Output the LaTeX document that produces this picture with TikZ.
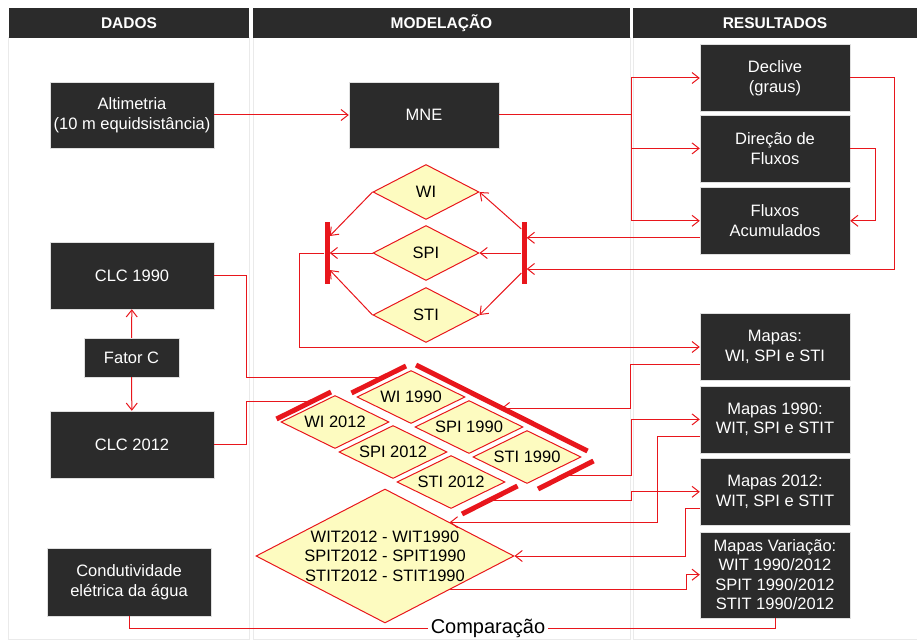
\documentclass[tikz,border=0pt]{standalone}
\usepackage{fontspec}
\setmainfont{Liberation Sans}
\usetikzlibrary{shapes.geometric,arrows.meta,positioning}
\definecolor{escuro}{RGB}{43,43,43}
\definecolor{vermelho}{RGB}{232,22,28}
\definecolor{amarelo}{RGB}{253,251,192}
\definecolor{painel}{RGB}{234,234,234}

\begin{document}
\begin{tikzpicture}[x=1pt,y=-1pt,>={Straight Barb[length=7pt,width=11pt]},
  font=\fontsize{16.5}{19.5}\selectfont,
  caixa/.style={draw=gray!25, fill=escuro, text=white, align=center, inner sep=0pt, minimum width=150pt, minimum height=67pt},
  cabeca/.style={fill=escuro, text=white, font=\fontsize{15.5}{18}\selectfont\bfseries, inner sep=0pt, minimum height=30pt},
  losango/.style={diamond, aspect=2, draw=vermelho, line width=1pt, fill=amarelo, inner sep=0pt, minimum width=108pt, minimum height=53pt},
  seta/.style={->, draw=vermelho, line width=1pt},
  linha/.style={draw=vermelho, line width=1pt},
  barra/.style={draw=vermelho, line width=5pt},
  tbarra/.style={fill=vermelho, inner sep=0pt, minimum width=5pt, minimum height=62pt}]
  \useasboundingbox (0,0) rectangle (917,639);

  \draw[painel, line width=1pt] (8,38) rectangle (249,639);
  \draw[painel, line width=1pt] (253,38) rectangle (630,639);
  \draw[painel, line width=1pt] (633,38) rectangle (917,639);

  \node[cabeca, minimum width=240pt] (hDados) at (129,23) {DADOS};
  \node[cabeca, minimum width=377pt] (hModel) at (441.5,23) {MODELAÇÃO};
  \node[cabeca, minimum width=284pt] (hResult) at (775,23) {RESULTADOS};

  \node[caixa, minimum width=164pt, minimum height=66pt] (alt) at (132,115) {Altimetria\\(10 m equidsistância)};
  \node[caixa, minimum height=66pt] (mne) at (424,115) {MNE};
  \node[caixa] (decl) at (775,78) {Declive\\(graus)};
  \node[caixa, below=3pt of decl] (dir) {Direção de\\Fluxos};
  \node[caixa, below=5pt of dir] (acc) {Fluxos\\Acumulados};

  \node[caixa, minimum width=164pt] (c90) at (132,275.5) {CLC 1990};
  \node[caixa, minimum width=95pt, minimum height=39pt] (fat) at (131.5,357.5) {Fator C};
  \node[caixa, minimum width=164pt] (c12) at (132,444.5) {CLC 2012};
  \node[caixa, minimum width=164pt, minimum height=68pt] (cond) at (129,582) {Condutividade\\elétrica da água};

  \node[caixa] (mWI) at (775,347) {Mapas:\\WI, SPI e STI};
  \node[caixa, below=5pt of mWI] (m90) {Mapas 1990:\\WIT, SPI e STIT};
  \node[caixa, below=5pt of m90] (m12) {Mapas 2012:\\WIT, SPI e STIT};
  \node[caixa, below=6pt of m12, minimum height=86pt] (mVar) {Mapas Variação:\\WIT 1990/2012\\SPIT 1990/2012\\STIT 1990/2012};

  \node[losango, minimum width=106pt, minimum height=55pt] (wi) at (426,192) {WI};
  \node[losango, minimum width=106pt, minimum height=55pt] (spi) at (426,253) {SPI};
  \node[losango, minimum width=106pt, minimum height=55pt] (sti) at (426,315) {STI};
  \node[tbarra] (barE) at (327,253) {};
  \node[tbarra] (barD) at (524,253) {};

  \node[losango] (w90) at (411,397) {WI 1990};
  \node[losango] (s90) at (469,427) {SPI 1990};
  \node[losango] (t90) at (527,457) {STI 1990};
  \node[losango] (w12) at (335,422) {WI 2012};
  \node[losango] (s12) at (393,452) {SPI 2012};
  \node[losango] (t12) at (451,482) {STI 2012};

  \node[losango, minimum width=258pt, minimum height=134pt] (comp) at (385,556) {};
  \node[align=center] (compTxt) at (comp.center) {WIT2012 - WIT1990\\SPIT2012 - SPIT1990\\STIT2012 - STIT1990};

  \node[font=\fontsize{20}{24}\selectfont, inner sep=3pt] (cmpTxt) at (488,628) {Comparação};

  \coordinate (g1) at (631,0);
  \coordinate (g2) at (686,0);
  \coordinate (accSai) at ([yshift=-17pt]acc.west);

  \draw[seta] (alt) -- (mne);
  \draw[seta] (mne.east) -- ++(132,0) coordinate (ramo) |- (decl.west);
  \draw[seta] (ramo) |- (dir.west);
  \draw[seta] (ramo) |- (acc.west);
  \draw[seta] (decl.east) -- ++(44,0) |- ([yshift=-16pt]barD.east);
  \draw[seta] (dir.east) -- ++(25,0) |- (acc.east);
  \draw[seta] (accSai) -- (accSai -| barD.east);

  \draw[seta] ([yshift=24pt]barD.west) -- (wi.east);
  \draw[seta] (barD.west) -- (spi.east);
  \draw[seta] ([yshift=-20pt]barD.west) -- (sti.east);
  \draw[seta] (wi.west) -- ([yshift=17pt]barE.east);
  \draw[seta] (spi.west) -- (barE.east);
  \draw[seta] (sti.west) -- ([yshift=-17pt]barE.east);
  \draw[seta] (barE.west) -- ++(-25,0) |- (mWI.west);

  \draw[seta] (fat) -- (c90);
  \draw[seta] (fat) -- (c12);

  \draw[barra] ([shift={(-5,-4)}]w90.west) -- ([shift={(-5,-4)}]w90.north) coordinate[pos=.57] (b1);
  \draw[barra] ([shift={(-4,-3)}]w12.west) -- ([shift={(-4,-3)}]w12.north) coordinate[pos=.64] (b2);
  \draw[barra] ([shift={(5,-5)}]w90.north) -- ([shift={(6,-6)}]t90.east) coordinate[pos=.5] (b3);
  \draw[barra] ([shift={(11,5)}]t90.south) -- ([shift={(12,4)}]t90.east) coordinate[midway] (b4);
  \draw[barra] ([shift={(11,5)}]t12.south) -- ([shift={(12,4)}]t12.east) coordinate[midway] (b5);

  \draw[linha] (c90.east) -- ++(32,0) |- (b1);
  \draw[linha] (c12.east) -- ++(32,0) |- (b2);

  \draw[seta] ([yshift=-17pt]mWI.west) -- ++(-69,0) |- (b3);
  \draw[seta] (b4) -- (b4 -| g1) |- (m90.west);
  \draw[seta] ([yshift=-17pt]m90.west) -- ++(-42,0) |- (comp.north east);
  \draw[seta] (b5) -- (b5 -| g1) |- (m12.west);
  \draw[seta] ([yshift=-17pt]m12.west) -- ++(-14,0) |- (comp.east);
  \draw[seta] (comp.south east) -- (comp.south east -| g2) |- (mVar.west);

  \draw[linha] (cond.south) |- (cmpTxt.west);
  \draw[linha] (cmpTxt.east) -| (mVar.south);
\end{tikzpicture}
\end{document}
